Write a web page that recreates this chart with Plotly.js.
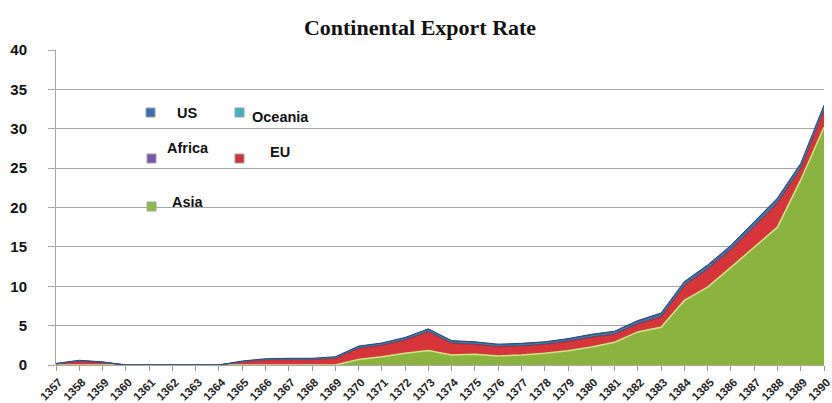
<!DOCTYPE html>
<html><head><meta charset="utf-8">
<script src="https://cdn.plot.ly/plotly-3.0.1.min.js"></script>
<style>html,body{margin:0;padding:0;background:#fff}#chart{width:832px;height:403px}</style>
</head><body><div id="chart"></div>
<script>
const years = ["1357","1358","1359","1360","1361","1362","1363","1364","1365","1366","1367","1368","1369","1370","1371","1372","1373","1374","1375","1376","1377","1378","1379","1380","1381","1382","1383","1384","1385","1386","1387","1388","1389","1390"];
const asia    = [0,0,0,0,0,0,0,0,0,0,0,0,0,0.7,1.05,1.5,1.85,1.27,1.35,1.15,1.27,1.5,1.8,2.3,2.9,4.2,4.8,8.2,9.9,12.4,15,17.5,23.5,30.2];
const eu      = [0.13,0.47,0.32,0,0,0,0,0,0.4,0.65,0.68,0.68,0.83,1.4,1.45,1.65,2.35,1.49,1.26,1.17,1.14,1.11,1.18,1.18,0.98,0.98,1.28,1.83,2.23,2.18,2.5,3.0,1.4,2.15];
const africa  = [0.02,0.05,0.03,0,0,0,0,0,0.03,0.05,0.05,0.05,0.07,0.08,0.08,0.1,0.1,0.08,0.08,0.08,0.08,0.08,0.09,0.1,0.1,0.12,0.12,0.15,0.15,0.18,0.2,0.2,0.2,0.2];
const oceania = [0.02,0.03,0.02,0,0,0,0,0,0.03,0.03,0.04,0.04,0.05,0.07,0.07,0.08,0.1,0.08,0.08,0.08,0.08,0.08,0.08,0.1,0.1,0.1,0.12,0.12,0.12,0.12,0.15,0.15,0.15,0.15];
const us      = [0.03,0.05,0.03,0,0,0,0,0,0.04,0.07,0.08,0.08,0.1,0.15,0.15,0.17,0.2,0.18,0.18,0.17,0.18,0.18,0.2,0.22,0.22,0.25,0.28,0.3,0.3,0.32,0.35,0.35,0.35,0.3];
const yTicks = [0,5,10,15,20,25,30,35,40];

const names = {us:"US", oceania:"Oceania", africa:"Africa", eu:"EU", asia:"Asia"};
const fills = {asia:"#8ab43f", eu:"#d6363a", africa:"#6e4f9e", oceania:"#3a9db5", us:"#3d5f9c"};
const lines = {asia:"#cfe58a", eu:"#b0282b", africa:"#5a3f86", oceania:"#2f8297", us:"#2f4675"};

function tr(key, vals){
  return {x: years, y: vals, name: names[key], type:"scatter", mode:"lines", stackgroup:"one",
    fillcolor: fills[key], line:{color: lines[key], width: key==="asia"?1.5:1}, showlegend:false, hoverinfo:"x+y+name"};
}
const data = [tr("asia",asia), tr("eu",eu), tr("africa",africa), tr("oceania",oceania), tr("us",us)];

// pixel -> paper helpers (plot area: x 56..824, y 50..365)
const PW = 768;
const px = v => (v-56)/PW, py = v => (365-v)/315;
const legendItems = [
  {key:"us",      mx:146, my:108, tx:175, ty:113},
  {key:"oceania", mx:235, my:108, tx:250, ty:117},
  {key:"africa",  mx:147, my:154, tx:165, ty:148},
  {key:"eu",      mx:235, my:154, tx:268, ty:152},
  {key:"asia",    mx:147, my:202, tx:170, ty:202}
];
const markerCol = {us:"#3e6fb2", oceania:"#40b2c2", africa:"#7b55b2", eu:"#d2323a", asia:"#8fba42"};
const shapes = legendItems.map(it => ({type:"rect", xref:"paper", yref:"paper",
  x0:px(it.mx), x1:px(it.mx+9), y0:py(it.my+9), y1:py(it.my),
  fillcolor: markerCol[it.key], line:{color:"#9aa0a8", width:1}}));
const annotations = legendItems.map(it => ({xref:"paper", yref:"paper", x:px(it.tx), y:py(it.ty),
  xanchor:"left", yanchor:"middle", showarrow:false, text:names[it.key],
  font:{family:"Liberation Sans, Arial, sans-serif", size:14.5, color:"#111", weight:"bold"}}));

const layout = {
  width:832, height:403,
  margin:{l:56, r:8, t:50, b:38},
  paper_bgcolor:"#fff", plot_bgcolor:"#fff",
  title:{text:"<b>Continental Export Rate</b>", x:(420)/832, xanchor:"center", y:1-27/403, yanchor:"middle",
    font:{family:"Liberation Serif, Times New Roman, serif", size:22, color:"#111"}},
  xaxis:{type:"category", range:[0,33], showgrid:false, zeroline:false,
    showline:false, ticks:"outside", ticklen:5, tickcolor:"#999", tickwidth:1,
    tickangle:-45, ticklabelshift:3,
    tickfont:{family:"Liberation Sans, Arial, sans-serif", size:11.5, color:"#222", weight:"bold"}},
  yaxis:{range:[0,40], tickvals:yTicks, ticktext:yTicks.map(String), showgrid:true, gridcolor:"#a6a6a6", gridwidth:1,
    zeroline:true, zerolinecolor:"#a6a6a6", showline:true, linecolor:"#a6a6a6", linewidth:1,
    ticks:"outside", ticklen:7, tickcolor:"#a6a6a6", ticklabelstandoff:18,
    tickfont:{family:"Liberation Sans, Arial, sans-serif", size:15, color:"#111", weight:"bold"}},
  shapes: shapes, annotations: annotations, showlegend:false
};
Plotly.newPlot("chart", data, layout, {displayModeBar:false, staticPlot:true});
</script></body></html>
